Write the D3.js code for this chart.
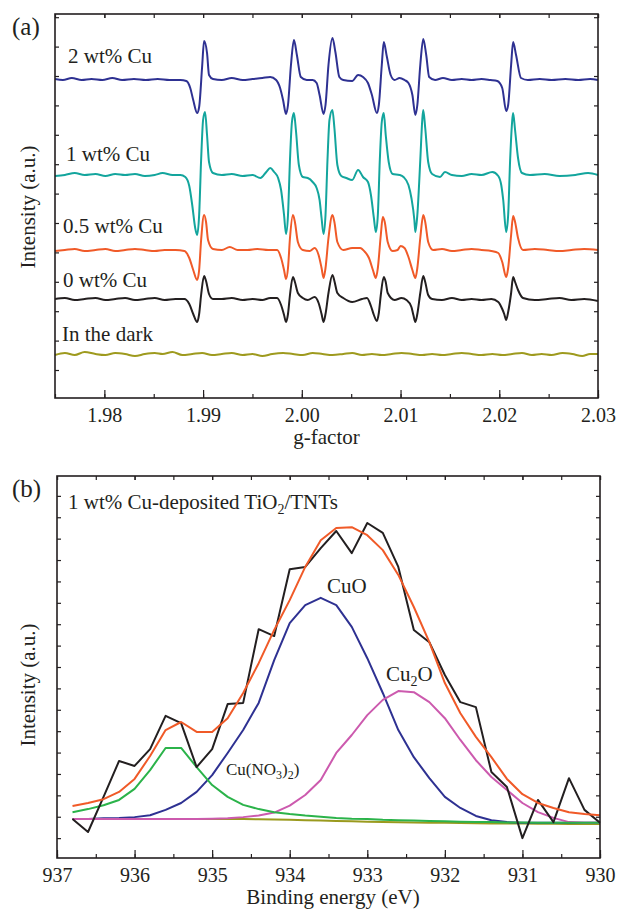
<!DOCTYPE html>
<html>
<head>
<meta charset="utf-8">
<title>EPR / XPS</title>
<script src="https://cdn.jsdelivr.net/npm/d3@7"></script>
<style>
  body { margin: 0; background: #fff; }
  text { font-family: "Liberation Serif", "Times New Roman", serif; fill: #231f20; }
  .axis path { display: none; }
  .axis line { stroke: #231f20; stroke-width: 1.2; }
</style>
</head>
<body>
<script>
// ---------- panel (a) data : [g, intensity] ----------
var cu2 = [[1.9750,319],[1.9758,318],[1.9767,320],[1.9777,318],[1.9787,319],[1.9798,318],[1.9808,320],[1.9818,318],[1.9830,319],[1.9842,318],[1.9854,319],[1.9866,318],[1.9877,318],[1.9883,317],[1.9887,310],[1.9890,298],[1.9894,285],[1.9896,291],[1.9899,331],[1.9901,357],[1.9904,345],[1.9906,323],[1.9910,319],[1.9919,318],[1.9929,320],[1.9940,318],[1.9950,319],[1.9960,320],[1.9968,321],[1.9974,318],[1.9978,310],[1.9981,298],[1.9984,284],[1.9986,293],[1.9989,333],[1.9992,358],[1.9995,343],[1.9999,321],[2.0005,318],[2.0011,318],[2.0015,315],[2.0018,303],[2.0022,284],[2.0024,293],[2.0027,333],[2.0031,360],[2.0034,346],[2.0038,321],[2.0042,318],[2.0051,317],[2.0057,323],[2.0062,321],[2.0067,315],[2.0071,303],[2.0076,285],[2.0078,293],[2.0081,333],[2.0083,356],[2.0086,342],[2.0090,323],[2.0094,318],[2.0099,320],[2.0104,318],[2.0108,315],[2.0112,303],[2.0115,283],[2.0117,293],[2.0120,333],[2.0123,359],[2.0126,343],[2.0129,321],[2.0135,318],[2.0143,320],[2.0152,318],[2.0162,319],[2.0172,318],[2.0182,319],[2.0191,318],[2.0198,317],[2.0203,310],[2.0207,287],[2.0209,293],[2.0212,333],[2.0214,356],[2.0217,343],[2.0222,320],[2.0229,318],[2.0241,319],[2.0253,318],[2.0267,319],[2.0280,318],[2.0292,319],[2.0300,318]];

var cu1 = [[1.9750,222],[1.9760,223],[1.9770,225],[1.9780,223],[1.9791,224],[1.9801,222],[1.9811,224],[1.9821,223],[1.9831,224],[1.9841,222],[1.9851,223],[1.9859,225],[1.9869,223],[1.9877,223],[1.9882,221],[1.9886,212],[1.9889,193],[1.9892,170],[1.9894,163],[1.9896,183],[1.9898,238],[1.9900,278],[1.9902,286],[1.9904,263],[1.9906,236],[1.9910,225],[1.9919,223],[1.9929,224],[1.9940,222],[1.9950,223],[1.9958,220],[1.9964,226],[1.9968,230],[1.9972,226],[1.9976,220],[1.9979,208],[1.9982,183],[1.9984,164],[1.9986,183],[1.9988,238],[1.9990,276],[1.9992,285],[1.9994,268],[1.9997,233],[2.0001,221],[2.0006,220],[2.0011,216],[2.0015,210],[2.0018,198],[2.0020,180],[2.0022,164],[2.0024,183],[2.0026,238],[2.0028,278],[2.0031,288],[2.0033,270],[2.0036,233],[2.0040,222],[2.0045,220],[2.0051,218],[2.0057,228],[2.0062,221],[2.0067,216],[2.0070,203],[2.0073,180],[2.0075,166],[2.0077,183],[2.0079,238],[2.0081,276],[2.0083,285],[2.0085,263],[2.0088,236],[2.0092,224],[2.0099,223],[2.0103,221],[2.0108,213],[2.0111,200],[2.0114,178],[2.0115,166],[2.0117,183],[2.0120,238],[2.0122,278],[2.0123,288],[2.0125,270],[2.0128,236],[2.0132,224],[2.0140,221],[2.0145,226],[2.0152,223],[2.0162,222],[2.0172,224],[2.0182,223],[2.0193,226],[2.0199,222],[2.0202,213],[2.0204,198],[2.0207,166],[2.0209,183],[2.0211,238],[2.0213,276],[2.0214,285],[2.0216,268],[2.0219,240],[2.0223,225],[2.0231,223],[2.0246,224],[2.0261,222],[2.0277,223],[2.0290,225],[2.0300,223]];

var cu05 = [[1.9750,147],[1.9760,148],[1.9770,149],[1.9780,147],[1.9791,148],[1.9801,149],[1.9811,147],[1.9821,148],[1.9831,149],[1.9841,148],[1.9851,147],[1.9861,148],[1.9872,148],[1.9881,147],[1.9886,140],[1.9890,128],[1.9894,118],[1.9896,128],[1.9898,158],[1.9901,183],[1.9903,176],[1.9905,158],[1.9910,149],[1.9919,148],[1.9927,151],[1.9935,148],[1.9945,148],[1.9955,149],[1.9966,148],[1.9975,148],[1.9979,140],[1.9982,128],[1.9984,119],[1.9986,130],[1.9988,160],[1.9991,183],[1.9993,176],[1.9996,156],[2.0001,148],[2.0008,147],[2.0013,150],[2.0017,143],[2.0020,130],[2.0022,120],[2.0024,130],[2.0027,160],[2.0031,183],[2.0033,176],[2.0036,156],[2.0042,148],[2.0051,150],[2.0059,150],[2.0064,146],[2.0068,140],[2.0072,128],[2.0075,120],[2.0077,130],[2.0080,163],[2.0082,181],[2.0084,176],[2.0087,156],[2.0092,147],[2.0097,148],[2.0100,152],[2.0104,150],[2.0108,141],[2.0112,128],[2.0115,120],[2.0117,130],[2.0120,160],[2.0123,183],[2.0125,176],[2.0128,156],[2.0133,148],[2.0142,149],[2.0152,147],[2.0162,148],[2.0172,149],[2.0182,148],[2.0192,147],[2.0199,145],[2.0203,136],[2.0207,121],[2.0209,130],[2.0212,163],[2.0214,182],[2.0216,176],[2.0219,160],[2.0224,148],[2.0236,149],[2.0249,148],[2.0261,147],[2.0273,148],[2.0286,149],[2.0300,148]];

var cu0 = [[1.9750,99],[1.9760,100],[1.9770,98],[1.9780,99],[1.9791,100],[1.9801,98],[1.9811,99],[1.9821,100],[1.9831,98],[1.9841,99],[1.9851,100],[1.9861,98],[1.9872,99],[1.9881,99],[1.9886,94],[1.9890,84],[1.9894,76],[1.9896,84],[1.9898,103],[1.9901,122],[1.9903,117],[1.9906,104],[1.9910,99],[1.9919,99],[1.9929,100],[1.9940,98],[1.9950,99],[1.9960,98],[1.9968,100],[1.9975,100],[1.9979,93],[1.9982,83],[1.9984,76],[1.9986,84],[1.9988,103],[1.9991,121],[1.9993,116],[1.9996,105],[2.0001,100],[2.0006,98],[2.0013,101],[2.0017,95],[2.0020,84],[2.0022,76],[2.0024,84],[2.0027,105],[2.0031,123],[2.0033,117],[2.0036,105],[2.0042,100],[2.0051,96],[2.0061,99],[2.0066,100],[2.0070,92],[2.0073,83],[2.0076,77],[2.0078,85],[2.0080,103],[2.0083,121],[2.0085,116],[2.0087,105],[2.0094,98],[2.0101,100],[2.0106,98],[2.0111,91],[2.0113,83],[2.0115,76],[2.0117,84],[2.0120,105],[2.0123,122],[2.0125,116],[2.0128,103],[2.0132,99],[2.0142,98],[2.0152,100],[2.0162,98],[2.0172,99],[2.0182,98],[2.0192,99],[2.0199,96],[2.0203,89],[2.0205,84],[2.0207,78],[2.0209,86],[2.0212,105],[2.0214,121],[2.0216,116],[2.0219,108],[2.0224,100],[2.0236,98],[2.0249,99],[2.0261,100],[2.0273,98],[2.0286,99],[2.0300,97]];

var dark = [[1.9750,43],[1.9760,45],[1.9770,43],[1.9780,46],[1.9791,44],[1.9801,43],[1.9811,45],[1.9821,44],[1.9831,42],[1.9841,44],[1.9851,45],[1.9859,44],[1.9869,46],[1.9879,43],[1.9889,44],[1.9899,45],[1.9909,43],[1.9919,44],[1.9929,45],[1.9940,43],[1.9950,44],[1.9960,42],[1.9970,44],[1.9981,45],[1.9991,44],[2.0001,43],[2.0011,45],[2.0021,44],[2.0031,43],[2.0042,44],[2.0051,45],[2.0061,43],[2.0071,44],[2.0081,43],[2.0091,44],[2.0101,45],[2.0112,44],[2.0122,43],[2.0132,44],[2.0142,43],[2.0152,44],[2.0162,45],[2.0172,44],[2.0182,43],[2.0193,44],[2.0203,43],[2.0213,44],[2.0223,45],[2.0233,43],[2.0243,44],[2.0253,43],[2.0264,45],[2.0274,44],[2.0284,42],[2.0292,44],[2.0300,44]];

var seriesA = [cu2, cu1, cu05, cu0, dark];
var labelsA = ["2 wt% Cu", "1 wt% Cu", "0.5 wt% Cu", "0 wt% Cu", "In the dark"];
var colorsA = ["#2e3192", "#13a59d", "#f05a28", "#231f20", "#9e9a1e"];
var gTicks = [1.98, 1.99, 2.00, 2.01, 2.02, 2.03];

// ---------- panel (b) data ----------
var energy = [936.8,936.6,936.4,936.2,936.0,935.8,935.6,935.4,935.2,935.0,934.8,934.6,934.4,934.2,934.0,933.8,933.6,933.4,933.2,933.0,932.8,932.6,932.4,932.2,932.0,931.8,931.6,931.4,931.2,931.0,930.8,930.6,930.4,930.2,930.0];
var measured = [0,-3.4,5.8,15.2,13.9,18.3,27.0,25.1,13.6,18.3,30.1,30.4,49.7,47.9,65.4,66.0,70.9,75.4,69.6,77.5,74.9,66.0,49.5,46.3,37.7,30.6,29.3,12.3,8.4,-5.0,5.0,-0.8,10.7,2.4,-1.0];
var fitSum = [3.4,4.2,5.2,7.1,10.5,16.5,23.3,25.4,22.8,22.8,26.4,33.0,40.8,49.5,57.3,66.0,73.0,76.2,76.4,74.3,70.4,63.9,55.5,46.3,35.6,27.7,21.5,16.2,10.5,6.5,4.2,2.9,1.8,1.3,1.0];
var cuNO3 = [1.8,2.6,3.6,5.0,7.9,12.8,18.6,18.6,13.6,8.9,5.8,3.7,2.6,1.8,1.3,0.9,0.6,0.3,0.1,0.0,-0.2,-0.3,-0.4,-0.5,-0.6,-0.7,-0.8,-0.8,-0.9,-0.9,-1.0,-1.0,-1.0,-1.0,-1.0];
var cuO = [0,0,0.2,0.3,0.5,1.0,2.4,4.2,7.1,11.5,17.3,23.3,30.4,41.6,51.3,56.0,57.9,56.0,50.3,42.1,33.0,23.3,16.2,10.7,5.8,2.9,0.8,-0.3,-0.8,-1.0,-1.0,-1.0,-1.0,-1.0,-1.0];
var cu2O = [0,0,0,0,0,0,0,0,0,0.1,0.2,0.5,0.9,1.7,3.5,6.3,10.2,17.3,22.0,27.2,31.2,33.5,33.2,30.6,26.4,20.7,15.4,11.0,7.6,4.2,1.8,0.3,-0.8,-1.0,-1.0];
var background = [0,0,0,0,0,0,0,0,0,0,0,0,-0.05,-0.1,-0.2,-0.3,-0.4,-0.5,-0.6,-0.7,-0.8,-0.85,-0.9,-0.95,-1.0,-1.05,-1.1,-1.15,-1.2,-1.2,-1.25,-1.25,-1.3,-1.3,-1.3];
var eTicks = [937, 936, 935, 934, 933, 932, 931, 930];

var W = 617, H = 909;
var svg = d3.select("body").append("svg").attr("width", W).attr("height", H);

// minor + major inward ticks on all four sides of a frame
function frame(g, x, y, xMajor, xMinor, yMinor, fmt, left, top, right, bottom) {
  g.append("g").attr("class", "axis").attr("transform", "translate(0," + bottom + ")")
    .call(d3.axisBottom(x).tickValues(xMinor).tickSize(-4).tickFormat(""));
  g.append("g").attr("class", "axis").attr("transform", "translate(0," + bottom + ")")
    .call(d3.axisBottom(x).tickValues(xMajor).tickSize(-8).tickPadding(10).tickFormat(fmt))
    .selectAll("text").attr("font-size", "20px").attr("font-family", "Liberation Serif").attr("fill", "#231f20");
  g.append("g").attr("class", "axis").attr("transform", "translate(0," + top + ")")
    .call(d3.axisTop(x).tickValues(xMinor).tickSize(-4).tickFormat(""));
  g.append("g").attr("class", "axis").attr("transform", "translate(0," + top + ")")
    .call(d3.axisTop(x).tickValues(xMajor).tickSize(-4).tickFormat(""));
  g.append("g").attr("class", "axis").attr("transform", "translate(" + left + ",0)")
    .call(d3.axisLeft(y).tickValues(yMinor).tickSize(-4).tickFormat(""));
  g.append("g").attr("class", "axis").attr("transform", "translate(" + right + ",0)")
    .call(d3.axisRight(y).tickValues(yMinor).tickSize(-4).tickFormat(""));
  g.append("rect").attr("x", left).attr("y", top).attr("width", right - left).attr("height", bottom - top)
    .attr("fill", "none").attr("stroke", "#231f20").attr("stroke-width", 1.6);
}

// ================= panel (a) =================
var aL = 55, aR = 598, aT = 14, aB = 398;
var xa = d3.scaleLinear().domain([1.975, 2.03]).range([aL, aR]);
var ya = d3.scaleLinear().domain([0, 384]).range([aB, aT]);
var ga = svg.append("g");

var lineA = d3.line().x(function(d){return xa(d[0]);}).y(function(d){return ya(d[1]);}).curve(d3.curveMonotoneX);
seriesA.forEach(function(s, i) {
  ga.append("path").datum(s).attr("d", lineA)
    .attr("fill", "none").attr("stroke", colorsA[i]).attr("stroke-width", 2).attr("stroke-linejoin", "round");
});

frame(ga, xa, ya, gTicks, d3.range(1.975, 2.031, 0.005), d3.range(28, 384, 29.4), d3.format(".2f"), aL, aT, aR, aB);

var labelPosA = [[68, 63], [66, 161], [63, 233], [63, 287], [62, 341]];
labelsA.forEach(function(t, i) {
  ga.append("text").attr("x", labelPosA[i][0]).attr("y", labelPosA[i][1]).attr("font-size", "21px").text(t);
});
ga.append("text").attr("x", 12).attr("y", 35).attr("font-size", "25px").text("(a)");
ga.append("text").attr("transform", "translate(35,207) rotate(-90)").attr("text-anchor", "middle")
  .attr("font-size", "21px").text("Intensity (a.u.)");
ga.append("text").attr("x", (aL + aR) / 2).attr("y", 444).attr("text-anchor", "middle")
  .attr("font-size", "21px").text("g-factor");

// ================= panel (b) =================
var bL = 57, bR = 600, bT = 476, bB = 858;
var xb = d3.scaleLinear().domain([937, 930]).range([bL, bR]);
var yb = d3.scaleLinear().domain([-10.2, 89.8]).range([bB, bT]);
var gb = svg.append("g");

function lineB(vals) {
  return d3.line().x(function(d, i){return xb(energy[i]);}).y(function(d){return yb(d);})(vals);
}
var seriesB = [
  [background, "#9a9a1e"],
  [cuO, "#2e3192"],
  [cu2O, "#cc5aae"],
  [cuNO3, "#2bb34a"],
  [measured, "#231f20"],
  [fitSum, "#f05a28"]
];
seriesB.forEach(function(s) {
  gb.append("path").attr("d", lineB(s[0]))
    .attr("fill", "none").attr("stroke", s[1]).attr("stroke-width", 2).attr("stroke-linejoin", "round");
});

frame(gb, xb, yb, eTicks, d3.range(937, 929.9, -0.5), d3.range(-5, 89, 5.6), d3.format("d"), bL, bT, bR, bB);

gb.append("text").attr("x", 12).attr("y", 497).attr("font-size", "25px").text("(b)");
var t1 = gb.append("text").attr("x", 68).attr("y", 509).attr("font-size", "21px");
t1.append("tspan").text("1 wt% Cu-deposited TiO");
t1.append("tspan").attr("dy", 5).attr("font-size", "14px").text("2");
t1.append("tspan").attr("dy", -5).text("/TNTs");

gb.append("text").attr("x", 327).attr("y", 593).attr("font-size", "21px").text("CuO");
var t2 = gb.append("text").attr("x", 386).attr("y", 681).attr("font-size", "21px");
t2.append("tspan").text("Cu");
t2.append("tspan").attr("dy", 5).attr("font-size", "14px").text("2");
t2.append("tspan").attr("dy", -5).text("O");

var t3 = gb.append("text").attr("x", 226).attr("y", 775).attr("font-size", "17px");
t3.append("tspan").text("Cu(NO");
t3.append("tspan").attr("dy", 4).attr("font-size", "12px").text("3");
t3.append("tspan").attr("dy", -4).text(")");
t3.append("tspan").attr("dy", 4).attr("font-size", "12px").text("2");
t3.append("tspan").attr("dy", -4).text(")");

gb.append("text").attr("transform", "translate(35,685) rotate(-90)").attr("text-anchor", "middle")
  .attr("font-size", "21px").text("Intensity (a.u.)");
gb.append("text").attr("x", 333).attr("y", 904).attr("text-anchor", "middle")
  .attr("font-size", "21px").text("Binding energy (eV)");
</script>
</body>
</html>
